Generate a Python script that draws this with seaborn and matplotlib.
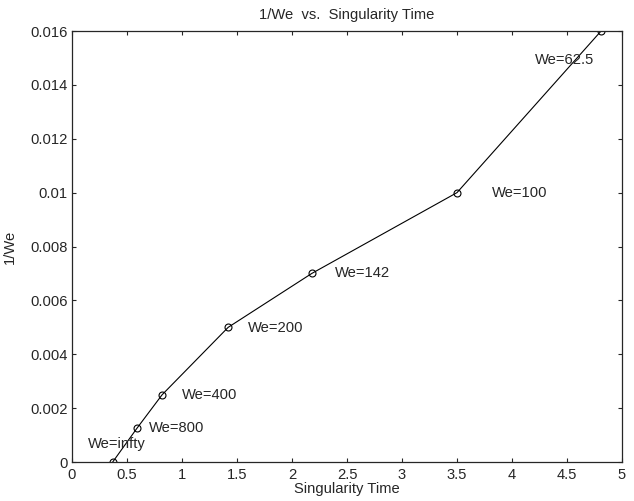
import pandas as pd
import seaborn as sns
import matplotlib
matplotlib.use("Agg")
import matplotlib.pyplot as plt

# data
sing_time = [0.37, 0.59, 0.82, 1.42, 2.18, 3.5, 4.81]
inv_we = [0.0, 0.00125, 0.0025, 0.005, 0.007, 0.01, 0.016]
labels = ["We=infty", "We=800", "We=400", "We=200", "We=142", "We=100", "We=62.5"]
label_x = [0.145, 0.70, 1.0, 1.60, 2.39, 3.82, 4.21]
label_y = [0.00067, 0.00126, 0.00249, 0.00497, 0.00702, 0.00999, 0.01492]

df = pd.DataFrame({"t": sing_time, "w": inv_we})

sns.set_style("ticks")
plt.rcParams["font.family"] = ["Liberation Sans", "DejaVu Sans"]
fs = 10.6

fig = plt.figure(figsize=(6.34, 5.01), dpi=100)
ax = fig.add_axes([72 / 634, 39 / 501, 550 / 634, 431 / 501])

sns.lineplot(data=df, x="t", y="w", ax=ax, color="black", linewidth=0.8,
             marker="o", markersize=5, markerfacecolor="none",
             markeredgecolor="black", markeredgewidth=0.8)

for lx, ly, lab in zip(label_x, label_y, labels):
    ax.text(lx, ly, lab, fontsize=fs, va="center", ha="left")

ax.set_xlim(0, 5)
ax.set_ylim(0, 0.016)
ax.set_xticks([0, 0.5, 1, 1.5, 2, 2.5, 3, 3.5, 4, 4.5, 5])
ax.set_xticklabels(["0", "0.5", "1", "1.5", "2", "2.5", "3", "3.5", "4", "4.5", "5"])
ax.set_yticks([0, 0.002, 0.004, 0.006, 0.008, 0.01, 0.012, 0.014, 0.016])
ax.set_yticklabels(["0", "0.002", "0.004", "0.006", "0.008", "0.01", "0.012", "0.014", "0.016"])
ax.tick_params(direction="in", top=True, right=True, length=3, width=0.8, labelsize=fs)
ax.tick_params(axis="x", pad=4)
ax.tick_params(axis="y", pad=3)
for s in ax.spines.values():
    s.set_linewidth(0.9)
    s.set_visible(True)

ax.set_title("1/We  vs.  Singularity Time", fontsize=fs, pad=9)
ax.set_xlabel("Singularity Time", fontsize=fs, labelpad=0)
ax.set_ylabel("1/We", fontsize=fs, labelpad=10)

fig.savefig("out.png", dpi=100)
